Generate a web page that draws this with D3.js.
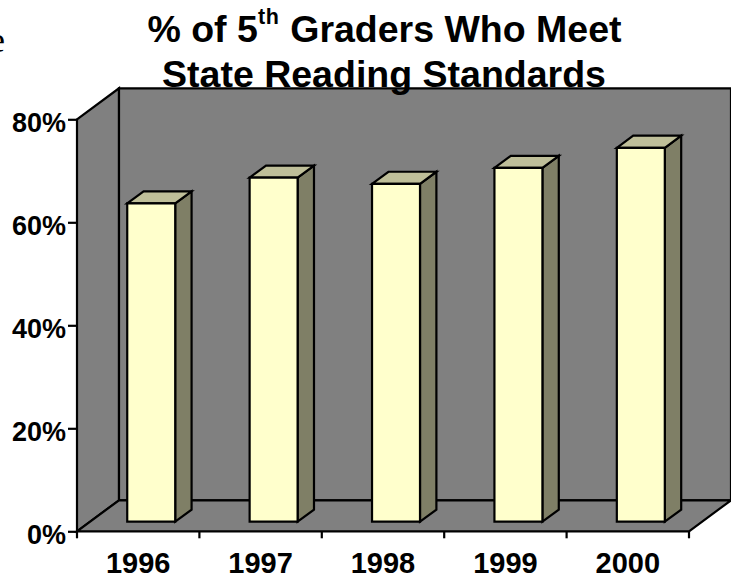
<!DOCTYPE html>
<html>
<head>
<meta charset="utf-8">
<script src="https://cdn.jsdelivr.net/npm/d3@7"></script>
<style>
html, body { margin: 0; padding: 0; background: #fff; }
svg { display: block; }
text { font-family: "Liberation Sans", Arial, sans-serif; font-weight: bold; fill: #000; }
</style>
</head>
<body>
<svg id="chart" width="731" height="576"></svg>
<script>
// Reading results by school year
const years = ["1996", "1997", "1998", "1999", "2000"];
const percentMeeting = [61.8, 66.8, 65.6, 68.7, 72.6];
const percentTicks = [0, 20, 40, 60, 80];
const titleLines = ["State Reading Standards"];

const svg = d3.select("#chart");

// Front plane of the box, plus the shift applied per unit of depth
const plot = { left: 77, right: 689, top: 119.3, bottom: 531.3 };
const depth = { dx: 42, dy: -31 };
const barDepth = { front: 0.31, back: 0.70 };

const x = d3.scaleBand().domain(years).range([plot.left, plot.right]).paddingInner(0.608).paddingOuter(0.304);
const y = d3.scaleLinear().domain([0, 80]).range([plot.bottom, plot.top]);

// Oblique projection: value space to screen, z running from front (0) to back (1)
const px = (sx, z) => sx + z * depth.dx;
const py = (sy, z) => sy + z * depth.dy;
const poly = pts => pts.map(p => p.join(",")).join(" ");

function face(points, fill) {
  return svg.append("polygon").attr("points", poly(points)).attr("fill", fill)
    .attr("stroke", "#000").attr("stroke-width", 2.2).attr("stroke-linejoin", "miter");
}

// Box walls and floor
const L = plot.left, R = plot.right, T = y(80), B = y(0);
face([[L, T], [px(L, 1), py(T, 1)], [px(L, 1), py(B, 1)], [L, B]], "#808080");
face([[px(L, 1), py(T, 1)], [px(R, 1), py(T, 1)], [px(R, 1), py(B, 1)], [px(L, 1), py(B, 1)]], "#808080");
face([[L, B], [px(L, 1), py(B, 1)], [px(R, 1), py(B, 1)], [R, B]], "#808080");

// Bars, each one a front, a top and a side face
years.forEach((yr, i) => {
  const x0 = x(yr), x1 = x0 + x.bandwidth();
  const yTop = y(percentMeeting[i]);
  const zf = barDepth.front, zb = barDepth.back;
  face([[px(x1, zf), py(B, zf)], [px(x1, zb), py(B, zb)], [px(x1, zb), py(yTop, zb)], [px(x1, zf), py(yTop, zf)]], "#7F7F66");
  face([[px(x0, zf), py(yTop, zf)], [px(x0, zb), py(yTop, zb)], [px(x1, zb), py(yTop, zb)], [px(x1, zf), py(yTop, zf)]], "#BFBF99");
  face([[px(x0, zf), py(B, zf)], [px(x1, zf), py(B, zf)], [px(x1, zf), py(yTop, zf)], [px(x0, zf), py(yTop, zf)]], "#FFFFCC");
});

// Value axis
const yAxis = d3.axisLeft(y).tickValues(percentTicks).tickFormat(d => d + "%").tickSize(9).tickPadding(2);
const gy = svg.append("g").attr("transform", `translate(${L},0)`).call(yAxis);
gy.select(".domain").remove();
gy.selectAll("line").attr("stroke", "#000").attr("stroke-width", 2.2);
gy.selectAll("text").attr("font-size", 27).attr("y", 2.5).attr("dy", "0.35em");

// Year axis, ticks sit on the band edges
const gx = svg.append("g");
const tickEdges = years.map(yr => x(yr) - x.step() * 0.304).concat([R]);
gx.selectAll("line").data(tickEdges).join("line")
  .attr("x1", d => d).attr("x2", d => d).attr("y1", B).attr("y2", B + 7)
  .attr("stroke", "#000").attr("stroke-width", 2.2);
gx.selectAll("text").data(years).join("text")
  .attr("x", d => x(d) + x.bandwidth() / 2).attr("y", 573)
  .attr("text-anchor", "middle").attr("font-size", 29).text(d => d);

// Title
const title = svg.append("text").attr("x", 384.5).attr("y", 42).attr("text-anchor", "middle").attr("font-size", 37.5);
title.append("tspan").text("% of 5");
title.append("tspan").attr("font-size", 21.5).attr("dy", -18.5).attr("letter-spacing", 0.8).text("th");
title.append("tspan").attr("dy", 18.5).text(" Graders Who Meet");
svg.selectAll("text.line").data(titleLines).join("text").attr("class", "line")
  .attr("x", 384).attr("y", 87).attr("text-anchor", "middle").attr("font-size", 37.5).text(d => d);

// Serif letter at the left margin
svg.append("text").attr("x", 5).attr("y", 52).attr("text-anchor", "end")
  .attr("font-size", 36).style("font-family", "'Liberation Serif', serif").style("font-weight", "normal").text("e");
</script>
</body>
</html>
